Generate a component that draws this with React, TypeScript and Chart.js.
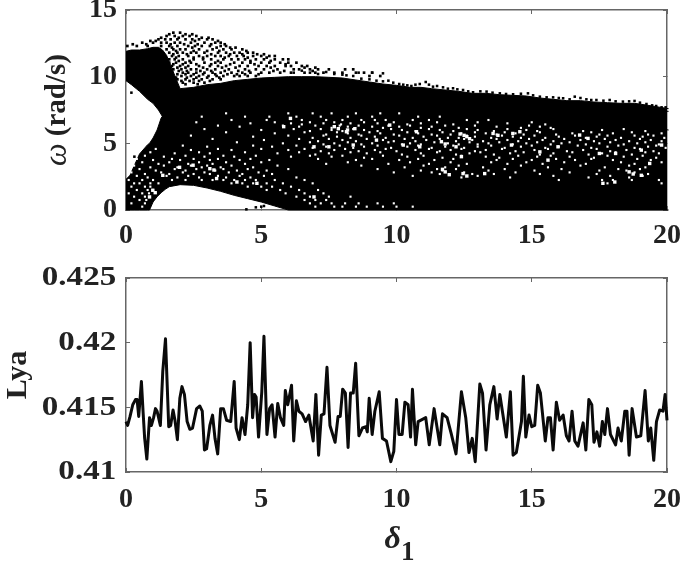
import React, { useEffect, useRef } from "react";
import { Chart, registerables } from "chart.js";

Chart.register(...registerables);

// ---- top panel: outline of the solid black areas
const wedgeX = [0, 0.2, 0.5, 0.8, 1, 1.2, 1.35, 1.5, 1.7, 2, 2.5, 3, 3.5, 4, 4.5, 5, 5.5, 6, 6.5, 7, 7.5, 8, 8.5, 9, 9.5, 10, 10.5, 10.9, 11.3, 11.8, 12.3, 12.8, 13.3, 13.8, 14.3, 14.8, 15.3, 15.8, 16.3, 16.8, 17.3, 17.8, 18.3, 18.8, 19.3, 20.06];
const wedgeHigh = [11.9, 12, 12, 12.1, 12.2, 12.2, 12, 11.6, 10.6, 9.1, 9.2, 9.4, 9.5, 9.7, 9.8, 9.9, 9.95, 10, 10, 10, 9.95, 9.9, 9.75, 9.6, 9.45, 9.35, 9.2, 9.2, 9.1, 9.0, 8.9, 8.75, 8.75, 8.65, 8.6, 8.55, 8.4, 8.3, 8.2, 8.2, 8.1, 8.05, 8, 8.0, 7.85, 7.6];
const wedgeLow = [9.7, 9.4, 8.9, 8.3, 8, 7.5, 7, 6.8, 6.8, 6.8, 6.8, 6.8, 6.8, 6.8, 6.8, 6.8, 6.8, 6.8, 6.8, 6.8, 6.8, 6.8, 6.8, 6.8, 6.8, 6.8, 6.8, 6.8, 6.6, 6.6, 6.6, 6.6, 6.6, 6.6, 6.6, 6.4, 6.4, 6.4, 6.4, 6.4, 6.4, 6.2, 6.2, 6.2, 6.2, 6.0];
const baseX = [0, 0.15, 0.3, 0.5, 0.8, 0.87, 1, 1.15, 1.3, 1.45, 1.6, 2, 2.5, 3, 3.5, 4, 4.5, 5, 5.5, 6, 20.06];
const baseHigh = [2.3, 2.6, 3.3, 4.2, 4.9, 5, 5.4, 6, 6.9, 7.3, 7.4, 7.4, 7.4, 7.4, 7.4, 7.4, 7.4, 7.4, 7.4, 7.4, 7.4];
const baseLow = [0, 0, 0, 0, 0, 0, 0.6, 1, 1.3, 1.55, 1.75, 1.9, 1.85, 1.65, 1.4, 1.1, 0.85, 0.6, 0.3, 0, 0];

// ---- top panel: bumps along the upper rim of the solid area
const edgeX = [6.2, 6.5, 6.8, 7.1, 7.4, 7.7, 8.0, 8.15, 8.4, 8.7, 9.0, 9.26, 9.5, 9.7, 9.88, 10.1, 10.25, 10.4, 10.55, 10.7, 10.86, 11.08, 11.2, 11.35, 11.5, 11.72, 11.9, 12.09, 12.25, 12.46, 12.65, 12.83, 13.1, 13.33, 13.55, 13.82, 14.05, 14.31, 14.6, 14.86, 15.05, 15.3, 15.55, 15.79, 16.0, 16.16, 16.4, 16.59, 16.8, 17.02, 17.2, 17.39, 17.65, 17.88, 18.1, 18.37, 18.6, 18.8, 19.0, 19.24, 19.45, 19.6, 19.8, 19.95];
const edgeY = [10.3, 10.45, 10.3, 10.2, 10.35, 10.2, 10.15, 10.1, 10.05, 9.85, 9.8, 9.7, 9.65, 9.7, 9.55, 9.45, 9.4, 9.35, 9.3, 9.4, 9.45, 9.6, 9.4, 9.25, 9.3, 9.2, 9.1, 9.13, 9.05, 9.0, 8.9, 8.83, 8.9, 8.88, 8.8, 8.75, 8.7, 8.68, 8.72, 8.75, 8.6, 8.5, 8.45, 8.45, 8.4, 8.38, 8.3, 8.5, 8.4, 8.3, 8.25, 8.25, 8.2, 8.25, 8.15, 8.13, 8.15, 8.18, 8.05, 7.95, 7.85, 7.8, 7.7, 7.7];

// ---- top panel: scattered points above the solid area
const scatterRowY = [13.3, 13.18, 13.05, 12.92, 12.8, 12.68, 12.55, 12.43, 12.3, 12.18, 12.05, 11.93, 11.8, 11.68, 11.55, 11.43, 11.3, 11.18, 11.05, 10.93, 10.8, 10.68, 10.55, 10.43, 10.3, 10.18, 10.05, 9.93, 9.8, 9.68, 9.55, 9.43];
const scatterRowX = [
  [1.75, 2.0],
  [1.6, 2.2, 2.45],
  [1.5, 1.8, 2.1, 2.35, 2.6],
  [1.3, 1.95, 2.8, 3.05],
  [1.2, 1.45, 1.65, 1.9, 2.2, 2.45, 2.7, 3.0, 3.2],
  [0.9, 1.1, 2.55, 3.4],
  [0.6, 1.0, 1.3, 1.5, 1.8, 2.0, 2.4, 2.9, 3.3, 3.5],
  [0.25, 0.75, 1.65, 2.15, 2.65, 3.15, 3.65],
  [0.05, 0.4, 0.8, 1.3, 1.6, 1.9, 2.3, 2.55, 2.8, 3.1, 3.5, 3.7],
  [1.7, 2.45, 3.35, 3.85, 4.05],
  [1.5, 1.75, 2.0, 2.2, 2.7, 3.2, 3.6, 3.9, 4.3],
  [1.85, 2.5, 3.0, 3.45, 4.45],
  [1.6, 1.9, 2.1, 2.4, 2.6, 2.9, 3.4, 3.7, 4.0, 4.2, 4.5, 4.7],
  [1.75, 2.25, 3.15, 3.85, 4.3, 4.85, 5.1],
  [1.7, 1.95, 2.3, 2.7, 3.0, 3.3, 3.5, 3.8, 4.1, 4.35, 4.7, 5.0, 5.3, 5.5],
  [1.85, 2.5, 2.85, 3.65, 4.5, 5.2],
  [1.6, 1.8, 2.1, 2.5, 2.85, 3.15, 3.6, 3.9, 4.15, 4.4, 4.8, 5.1, 5.5, 5.8, 6.0],
  [1.95, 2.35, 3.4, 4.6, 5.35],
  [1.6, 1.85, 2.2, 2.4, 2.9, 3.3, 3.5, 4.0, 4.3, 4.6, 5.0, 5.3, 5.7, 6.0, 6.3],
  [1.75, 2.1, 2.6, 3.15, 3.85, 4.75, 5.9],
  [1.7, 2.0, 2.3, 2.7, 3.1, 3.4, 3.7, 4.2, 4.5, 4.9, 5.2, 5.5, 5.9, 6.1, 6.5, 6.7],
  [1.9, 2.2, 2.85, 3.55, 4.05, 5.35, 6.6, 7.0],
  [1.75, 2.05, 2.4, 2.6, 3.0, 3.3, 3.8, 4.4, 4.8, 5.1, 5.6, 6.2, 6.4, 6.8, 7.1, 7.5, 8.1, 8.4],
  [1.95, 2.25, 2.75, 3.15, 3.65, 4.15, 4.55, 5.45, 5.85, 6.9],
  [1.7, 2.1, 2.3, 2.6, 2.9, 3.2, 3.5, 3.9, 4.3, 4.6, 5.0, 5.3, 5.7, 6.1, 6.6, 7.0, 7.3, 7.7, 8.0, 8.5, 8.8, 9.1],
  [1.9, 2.2, 2.5, 2.85, 3.3, 3.75, 4.1, 4.4, 4.9],
  [1.7, 2.05, 2.4, 2.7, 3.05, 3.35, 3.6, 4.0, 4.2, 4.5, 4.8, 9.0, 9.4],
  [1.85, 2.25, 2.6, 3.0, 3.45],
  [1.9, 2.2, 2.5, 2.8, 3.2, 3.5],
  [2.05, 2.35, 2.7, 3.1],
  [2.1, 2.5, 2.9],
  [2.2, 2.65],
];
const loneX = [0.2, 0.31, 4.45, 4.8, 5.0, 5.1, 8.6, 9.1, 9.5];
const loneY = [8.8, 4.0, 0.05, 0.2, 0.25, 0.3, 10.3, 10.3, 10.25];

// ---- top panel: small holes in the solid area
const holeRowY = [7.25, 7.0, 6.75, 6.58, 6.5, 6.42, 6.33, 6.25, 6.16, 6.07, 6.0, 5.92, 5.83, 5.75, 5.66, 5.58, 5.5, 5.41, 5.33, 5.25, 5.16, 5.08, 5.0, 4.92, 4.83, 4.75, 4.66, 4.58, 4.5, 4.41, 4.33, 4.25, 4.16, 4.07, 4.0, 3.92, 3.83, 3.75, 3.58, 3.46, 3.33, 3.2, 3.07, 2.96, 2.82, 2.7, 2.56, 2.44, 2.25, 2.0, 1.75, 1.5, 1.25, 1.0, 0.75, 0.5, 0.25];
const holeRowX = [
  [3.7, 6.0, 6.9, 7.6, 8.5, 9.4, 10.1],
  [2.8, 4.4, 5.3, 6.3, 7.2, 8.2, 9.1, 10.8, 11.6],
  [3.9, 5.2, 6.5, 7.4, 8.0, 8.7, 9.2, 9.6, 10.6, 11.2, 12.6, 13.4],
  [2.6, 5.5, 6.8, 7.7, 8.8, 9.9, 11.5, 13.0, 15.0],
  [4.6, 6.1, 7.3, 8.3, 9.3, 10.9, 14.1],
  [6.5, 7.95, 10.4, 12.1, 15.5],
  [3.4, 5.8, 7.0, 7.9, 8.6, 9.7, 10.5, 11.8, 12.9, 14.9],
  [4.2, 6.4, 8.2, 9.1, 10.1, 11.3, 13.7, 15.3],
  [7.6, 9.5, 10.9, 12.3, 14.6, 15.7],
  [2.9, 6.2, 7.2, 8.4, 9.8, 11.2, 12.6, 14.1, 15.8, 18.4],
  [5.0, 7.6, 8.8, 10.2, 11.6, 13.0, 14.8, 17.6],
  [6.8, 8.0, 9.3, 10.7, 12.1, 13.6, 15.2, 16.9, 19.2],
  [3.7, 6.6, 7.8, 9.0, 10.4, 11.7, 12.9, 14.0, 15.3, 17.2, 18.7],
  [5.5, 8.2, 9.4, 10.8, 12.4, 13.3, 14.4, 16.5, 18.0, 19.8],
  [7.4, 8.6, 9.9, 11.3, 12.0, 13.7, 14.7, 15.9, 17.5, 19.3],
  [2.4, 6.0, 7.3, 8.7, 10.1, 11.5, 12.6, 13.9, 15.1, 16.6, 17.8, 18.8, 19.5],
  [4.7, 7.8, 9.2, 11.0, 12.9, 14.3, 16.0, 17.4, 19.1],
  [6.9, 8.3, 9.6, 10.6, 11.9, 12.3, 13.5, 14.6, 15.5, 17.0, 18.3, 19.9],
  [3.2, 6.4, 7.5, 8.9, 10.3, 11.6, 12.5, 13.7, 14.9, 16.2, 17.7, 19.0],
  [5.1, 8.0, 9.5, 11.1, 12.8, 14.1, 15.4, 16.8, 18.1, 19.4],
  [7.1, 8.5, 9.9, 10.7, 12.2, 13.2, 14.5, 15.8, 17.3, 18.6, 19.8],
  [4.1, 6.8, 8.2, 9.7, 11.4, 12.7, 13.8, 15.2, 16.4, 17.9, 19.2],
  [5.8, 7.7, 9.1, 10.5, 11.9, 13.4, 14.8, 16.1, 17.5, 18.9],
  [7.3, 8.7, 10.2, 10.9, 12.3, 13.0, 14.3, 15.7, 17.0, 18.4, 19.7],
  [2.1, 4.7, 6.3, 7.9, 9.3, 10.8, 12.1, 13.5, 15.0, 16.7, 18.2, 19.6],
  [3.0, 5.4, 7.4, 8.8, 10.4, 11.8, 13.0, 14.6, 16.0, 17.8, 19.3],
  [6.9, 8.4, 9.8, 11.3, 12.5, 14.0, 15.5, 17.2, 18.8, 19.95],
  [1.1, 3.4, 5.0, 6.6, 8.1, 9.6, 11.2, 12.4, 13.9, 15.6, 17.4, 19.0],
  [2.4, 3.9, 6.0, 7.7, 9.2, 10.7, 12.0, 13.3, 15.1, 16.9, 18.5],
  [7.2, 8.6, 10.0, 11.6, 12.9, 14.4, 16.3, 17.9, 19.5],
  [0.9, 2.7, 4.4, 6.4, 8.3, 9.4, 11.5, 13.1, 14.7, 16.5, 18.1, 19.2],
  [1.8, 3.1, 5.6, 7.5, 8.9, 10.9, 12.7, 14.2, 15.8, 17.6, 19.7],
  [7.0, 10.2, 12.2, 13.6, 15.3, 17.1, 18.7],
  [0.7, 2.2, 3.6, 4.8, 6.8, 8.0, 9.5, 11.0, 12.4, 14.5, 15.7, 17.8, 19.1],
  [1.4, 2.9, 4.0, 6.1, 7.6, 10.4, 13.3, 15.2, 16.4, 18.4],
  [8.8, 11.7, 13.8, 17.3, 19.6],
  [0.4, 1.7, 2.5, 3.4, 4.6, 7.1, 9.1, 10.8, 12.1, 14.3, 15.9, 17.2, 18.9],
  [1.0, 2.0, 3.1, 4.2, 5.3, 8.5, 10.1, 11.4, 13.7, 15.0, 16.6, 18.0, 19.4],
  [0.6, 1.6, 2.7, 3.7, 5.0, 8.2, 10.5, 12.0, 13.5, 14.8, 16.2, 18.3, 19.8],
  [1.2, 2.3, 3.2, 4.4, 7.4, 9.7, 11.2, 12.6, 14.1, 15.4, 17.0, 18.8],
  [0.3, 1.4, 2.4, 3.0, 3.9, 5.6, 8.7, 11.0, 12.3, 14.6, 16.8, 18.6],
  [0.9, 1.9, 2.8, 3.5, 4.7, 10.3, 11.8, 13.2, 15.6, 17.7, 19.2],
  [0.5, 1.8, 2.6, 3.6, 4.5, 6.0, 9.3, 11.5, 12.2, 14.0, 16.1, 18.2, 19.0],
  [1.1, 2.2, 3.3, 4.1, 5.2, 10.9, 11.7, 13.4, 15.1, 17.5, 18.5],
  [0.2, 1.3, 2.1, 2.9, 3.8, 4.9, 9.9, 11.3, 12.5, 14.4, 16.4, 18.8],
  [0.7, 1.6, 2.5, 3.1, 4.3, 5.4, 11.6, 12.8, 13.6, 15.3, 17.4, 19.3],
  [0.4, 1.5, 2.3, 3.4, 4.2, 5.1, 10.6, 13.0, 15.8, 17.9, 19.1],
  [0.8, 1.9, 2.7, 3.7, 4.6, 6.3, 12.4, 14.2, 17.1, 18.6],
  [0.1, 0.6, 1.0, 1.7, 2.2, 2.8, 3.2, 3.6, 4.0, 4.4, 4.8, 5.5, 6.6, 16.0, 17.6, 18.0, 18.7, 19.7],
  [0.3, 0.5, 0.9, 1.2, 3.9, 4.3, 4.7, 5.2, 5.8, 6.9, 17.8, 19.8],
  [0.2, 0.7, 0.9, 4.5, 5.0, 5.4, 6.1],
  [0.4, 0.8, 1.0, 5.2, 5.7, 6.4, 7.1],
  [0.1, 0.6, 0.85, 5.9, 6.6, 7.3],
  [0.3, 0.7, 6.3, 6.8, 7.5, 8.3],
  [0.5, 0.75, 6.6, 7.0, 7.4],
  [0.2, 0.7, 6.8, 7.2, 7.6, 8.1, 8.6, 9.3, 9.9],
  [0.6, 7.0, 7.7, 8.0, 8.5, 8.9, 9.5, 10.0, 10.6],
];
// larger clusters and streaks of empty space
const clusterX = [8.15, 8.46, 8.4, 9.26, 9.75, 10.25, 10.74, 10.86, 11.66, 11.8, 12.2, 12.35, 12.5, 12.6, 12.7, 12.4, 11.8, 11.95, 11.7, 12.46, 12.6, 13.26, 13.57, 13.75, 14.3, 14.56, 14.25, 15.3, 15.97, 15.6, 16.77, 17.08, 17.5, 18.1, 18.6, 18.75, 19.05, 19.36, 19.8, 19.05, 17.63, 18.07, 5.83, 7.7, 7.85, 6.95, 7.5, 8.19, 6.08, 1.36, 2.48, 3.1, 3.25, 3.35, 1.98, 4.1, 4.84, 0.87, 0.99, 1.08, 6.95];
const clusterY = [5.87, 6.1, 4.87, 5.24, 6.37, 4.87, 5.87, 4.74, 5.12, 4.95, 4.74, 5.7, 5.6, 5.5, 5.35, 4.0, 2.86, 2.65, 3.05, 2.73, 2.55, 2.73, 5.74, 5.6, 5.74, 5.87, 4.87, 4.36, 4.74, 3.74, 5.62, 5.37, 4.24, 4.24, 2.86, 2.7, 2.6, 3.49, 4.87, 4.49, 2.0, 2.1, 6.25, 6.25, 6.1, 4.74, 4.74, 6.0, 6.87, 2.6, 3.36, 3.1, 3.0, 2.36, 3.2, 2.1, 2.0, 0.98, 1.48, 1.3, 0.98];

// ---- bottom panel: Lyapunov exponent series
const lyaX = [0, 0.06, 0.15, 0.25, 0.35, 0.41, 0.47, 0.57, 0.63, 0.69, 0.77, 0.87, 0.94, 1.02, 1.09, 1.15, 1.27, 1.36, 1.46, 1.58, 1.65, 1.74, 1.81, 1.9, 1.99, 2.07, 2.16, 2.26, 2.36, 2.46, 2.61, 2.73, 2.82, 2.9, 2.98, 3.1, 3.2, 3.29, 3.39, 3.5, 3.6, 3.72, 3.87, 4.0, 4.07, 4.19, 4.29, 4.4, 4.5, 4.59, 4.68, 4.75, 4.81, 4.9, 5.02, 5.1, 5.21, 5.31, 5.4, 5.51, 5.61, 5.71, 5.83, 5.89, 5.98, 6.12, 6.2, 6.3, 6.39, 6.51, 6.64, 6.76, 6.92, 7.02, 7.12, 7.22, 7.32, 7.43, 7.54, 7.73, 7.84, 7.92, 8.01, 8.11, 8.21, 8.3, 8.4, 8.49, 8.61, 8.74, 8.87, 8.92, 8.99, 9.1, 9.2, 9.36, 9.48, 9.63, 9.79, 9.9, 10, 10.09, 10.21, 10.31, 10.43, 10.52, 10.59, 10.71, 10.8, 11.08, 11.21, 11.39, 11.6, 11.7, 11.87, 12.03, 12.2, 12.4, 12.56, 12.68, 12.8, 12.91, 13.08, 13.18, 13.31, 13.45, 13.6, 13.72, 13.82, 14.06, 14.21, 14.31, 14.43, 14.62, 14.69, 14.78, 14.9, 15, 15.11, 15.22, 15.32, 15.5, 15.6, 15.69, 15.79, 15.91, 16.03, 16.16, 16.28, 16.38, 16.49, 16.59, 16.71, 16.9, 17, 17.11, 17.22, 17.3, 17.41, 17.51, 17.61, 17.7, 17.8, 17.91, 18.1, 18.19, 18.31, 18.44, 18.52, 18.6, 18.71, 18.87, 19.03, 19.19, 19.31, 19.4, 19.51, 19.61, 19.73, 19.85, 19.93, 20];
const lyaY = [0.4139, 0.4136, 0.4143, 0.4152, 0.4156, 0.4156, 0.4143, 0.417, 0.4147, 0.4126, 0.411, 0.4142, 0.4136, 0.4142, 0.4149, 0.4147, 0.4136, 0.4178, 0.4203, 0.4135, 0.4136, 0.4148, 0.414, 0.4125, 0.4157, 0.4166, 0.416, 0.4139, 0.4133, 0.4134, 0.4149, 0.4151, 0.4147, 0.4117, 0.4118, 0.4136, 0.4144, 0.4126, 0.4114, 0.4149, 0.4149, 0.414, 0.4139, 0.417, 0.4134, 0.4125, 0.4142, 0.4129, 0.4152, 0.42, 0.4142, 0.416, 0.4158, 0.4127, 0.4162, 0.4205, 0.4129, 0.4149, 0.4152, 0.4127, 0.4153, 0.4142, 0.4136, 0.4163, 0.4152, 0.4167, 0.4124, 0.4155, 0.4147, 0.4145, 0.4139, 0.4144, 0.4124, 0.416, 0.4113, 0.4144, 0.4145, 0.4181, 0.4136, 0.4123, 0.4143, 0.4143, 0.4164, 0.4161, 0.4119, 0.4161, 0.4161, 0.4184, 0.4128, 0.4134, 0.4135, 0.4131, 0.4157, 0.4129, 0.4147, 0.4162, 0.4126, 0.4124, 0.4108, 0.4116, 0.4156, 0.4129, 0.4129, 0.4154, 0.4152, 0.4127, 0.4164, 0.4121, 0.4139, 0.4142, 0.4121, 0.4149, 0.4121, 0.4145, 0.4142, 0.4129, 0.4114, 0.4162, 0.4142, 0.4115, 0.4126, 0.4108, 0.4168, 0.4161, 0.4117, 0.4152, 0.4166, 0.4141, 0.416, 0.4127, 0.4162, 0.4113, 0.4115, 0.4139, 0.4174, 0.4127, 0.4144, 0.4135, 0.4136, 0.4167, 0.4161, 0.4124, 0.4142, 0.4142, 0.4117, 0.4154, 0.414, 0.4144, 0.4128, 0.4124, 0.4147, 0.4124, 0.412, 0.4138, 0.4117, 0.4156, 0.4152, 0.4123, 0.4131, 0.412, 0.4139, 0.4129, 0.4149, 0.4129, 0.4121, 0.4134, 0.4124, 0.4147, 0.4147, 0.4113, 0.4149, 0.4127, 0.4128, 0.4163, 0.4124, 0.4134, 0.4109, 0.4139, 0.4148, 0.4147, 0.416, 0.414];

const xTickValues = [0, 5, 10, 15, 20];
const omegaTickValues = [0, 5, 10, 15];
const lyaTickValues = ["0.41", "0.415", "0.42", "0.425"];

const SERIF = '"Liberation Serif", "Times New Roman", serif';
const AXIS = "#666666";
const tickFont = { family: SERIF, size: 28, weight: "bold" as const, lineHeight: 1 };

type Run = { text: string; font: string; dy?: number };

function drawRuns(ctx: CanvasRenderingContext2D, runs: Run[], cx: number, cy: number, rot: number) {
  ctx.save();
  ctx.translate(cx, cy);
  ctx.rotate(rot);
  ctx.fillStyle = "#222";
  ctx.textBaseline = "middle";
  ctx.textAlign = "left";
  let total = 0;
  for (const r of runs) {
    ctx.font = r.font;
    total += ctx.measureText(r.text).width;
  }
  let x = -total / 2;
  for (const r of runs) {
    ctx.font = r.font;
    ctx.fillText(r.text, x, r.dy ?? 0);
    x += ctx.measureText(r.text).width;
  }
  ctx.restore();
}

const rows = (ys: number[], xs: number[][]) => ys.flatMap((y, i) => xs[i].map((x) => ({ x, y })));
const zip = (xs: number[], ys: number[]) => xs.map((x, i) => ({ x, y: ys[i] }));

function scales(opts: {
  yMin: number; yMax: number; yStep: number; leftW: number; bottomH: number; xPad: number; yPad: number;
  xTitle?: string; yTitle: any; yCb: (v: number) => string;
}) {
  const grid = { drawOnChartArea: false, drawTicks: true, tickLength: -4, color: AXIS, lineWidth: 1 };
  const border = { color: AXIS, width: 1.5 };
  const fix = (w?: number, h?: number) => (s: any) => {
    if (w !== undefined) s.width = w;
    if (h !== undefined) s.height = h;
    s.paddingTop = s.paddingBottom = s.paddingLeft = s.paddingRight = 0;
  };
  return {
    x: {
      type: "linear" as const, position: "bottom" as const, min: 0, max: 20, grid, border,
      afterBuildTicks: (s: any) => { s.ticks = xTickValues.map((value) => ({ value })); },
      ticks: { font: tickFont, color: "#222", padding: opts.xPad, maxRotation: 0, autoSkip: false },
      title: opts.xTitle ? { display: true, text: opts.xTitle, color: "#222" } : { display: false },
      afterFit: fix(undefined, opts.bottomH),
    },
    y: {
      type: "linear" as const, position: "left" as const, min: opts.yMin, max: opts.yMax, grid, border,
      ticks: { stepSize: opts.yStep, font: tickFont, color: "#222", padding: opts.yPad, autoSkip: false, callback: opts.yCb },
      title: opts.yTitle,
      afterFit: fix(opts.leftW),
    },
    x2: {
      type: "linear" as const, position: "top" as const, min: 0, max: 20, grid, border,
      afterBuildTicks: (s: any) => { s.ticks = xTickValues.map((value) => ({ value })); },
      ticks: { display: false }, afterFit: fix(undefined, 0),
    },
    y2: {
      type: "linear" as const, position: "right" as const, min: opts.yMin, max: opts.yMax, grid, border,
      ticks: { display: false, stepSize: opts.yStep }, afterFit: fix(0),
    },
  };
}

export default function App() {
  const topRef = useRef<HTMLCanvasElement>(null);
  const botRef = useRef<HTMLCanvasElement>(null);

  useEffect(() => {
    const omegaTitle = {
      id: "omegaTitle",
      afterLayout(chart: any) {
        chart.scales.y.drawTitle = function () {
          drawRuns(chart.ctx, [
            { text: "ω", font: `italic 32px ${SERIF}` },
            { text: " (rad/s)", font: `bold 29px ${SERIF}` },
          ], 58, (chart.chartArea.top + chart.chartArea.bottom) / 2, -Math.PI / 2);
        };
      },
    };
    const delta = {
      id: "deltaTitle",
      afterLayout(chart: any) {
        const xs = chart.scales.x;
        xs.drawTitle = function () {
          drawRuns(chart.ctx, [
            { text: "δ", font: `italic bold 32px ${SERIF}` },
            { text: "1", font: `bold 27px ${SERIF}`, dy: 13 },
          ], (chart.chartArea.left + chart.chartArea.right) / 2 + 3, 290, 0);
        };
        const ys = chart.scales.y;
        const labels = ys.constructor.prototype.drawLabels;
        ys.drawLabels = function (area: any) {
          const c = chart.ctx;
          const ax = 115;
          c.save();
          c.translate(ax, 0);
          c.scale(1.18, 1);
          c.translate(-ax, 0);
          labels.call(this, area);
          c.restore();
        };
      },
    };
    const dot = { type: "scatter", pointStyle: "rect", pointBorderWidth: 0 };
    const band = { borderColor: "#000", borderWidth: 1, pointRadius: 0, tension: 0, clip: false };

    const top = new Chart(topRef.current!, {
      type: "line",
      data: {
        datasets: [
          { ...dot, label: "holes", data: rows(holeRowY, holeRowX), pointRadius: 1.5, pointBackgroundColor: "#fff", order: 1 },
          { ...dot, label: "clusters", data: zip(clusterX, clusterY), pointRadius: 2.4, pointBackgroundColor: "#fff", order: 1 },
          { ...dot, label: "lone", data: zip(loneX, loneY), pointRadius: 1.8, pointBackgroundColor: "#000", order: 0, clip: false },
          { ...dot, label: "edge", data: zip(edgeX, edgeY), pointRadius: 1.8, pointBackgroundColor: "#000", order: 0, clip: false },
          { ...dot, label: "scatter", data: rows(scatterRowY, scatterRowX), pointRadius: 1.9, pointBackgroundColor: "#000", order: 0, clip: false },
          { ...band, label: "wedge high", data: zip(wedgeX, wedgeHigh), fill: "+1", backgroundColor: "#000", order: 2 },
          { ...band, label: "wedge low", data: zip(wedgeX, wedgeLow), fill: false, order: 2 },
          { ...band, label: "base high", data: zip(baseX, baseHigh), fill: "+1", backgroundColor: "#000", order: 3 },
          { ...band, label: "base low", data: zip(baseX, baseLow), fill: false, order: 3 },
        ] as any,
      },
      options: {
        animation: false, responsive: false,
        layout: { padding: { top: 10, right: 18, left: 0, bottom: 0 } },
        plugins: { legend: { display: false }, tooltip: { enabled: false } },
        scales: scales({
          yMin: 0, yMax: 15, yStep: 5, leftW: 126, bottomH: 40, xPad: 16, yPad: 13,
          yTitle: { display: true, text: "ω (rad/s)", color: "#222" },
          yCb: (v) => (omegaTickValues.includes(v) ? String(v) : ""),
        }) as any,
      },
      plugins: [omegaTitle],
    });

    const bot = new Chart(botRef.current!, {
      type: "line",
      data: {
        datasets: [
          { label: "Lya", data: zip(lyaX, lyaY), borderColor: "#0a0a0a", borderWidth: 3, pointRadius: 0, tension: 0, fill: false, clip: false, borderJoinStyle: "round" },
        ] as any,
      },
      options: {
        animation: false, responsive: false,
        layout: { padding: { top: 28, right: 18, left: 0, bottom: 0 } },
        plugins: { legend: { display: false }, tooltip: { enabled: false } },
        scales: scales({
          yMin: 0.41, yMax: 0.425, yStep: 0.005, leftW: 126, bottomH: 91, xPad: 18, yPad: 14,
          xTitle: "δ1",
          yTitle: { display: true, text: "Lya", color: "#222", font: { family: SERIF, size: 30, weight: "bold" }, padding: { top: 0, bottom: 0 } },
          yCb: (v) => lyaTickValues[Math.round((v - 0.41) / 0.005)],
        }) as any,
      },
      plugins: [delta],
    });

    return () => { top.destroy(); bot.destroy(); };
  }, []);

  return (
    <div style={{ position: "fixed", left: 0, top: 0, width: 685, height: 563, background: "#fff" }}>
      <canvas ref={topRef} width={685} height={250} style={{ position: "absolute", left: 0, top: 0 }} />
      <canvas ref={botRef} width={685} height={313} style={{ position: "absolute", left: 0, top: 250 }} />
    </div>
  );
}
